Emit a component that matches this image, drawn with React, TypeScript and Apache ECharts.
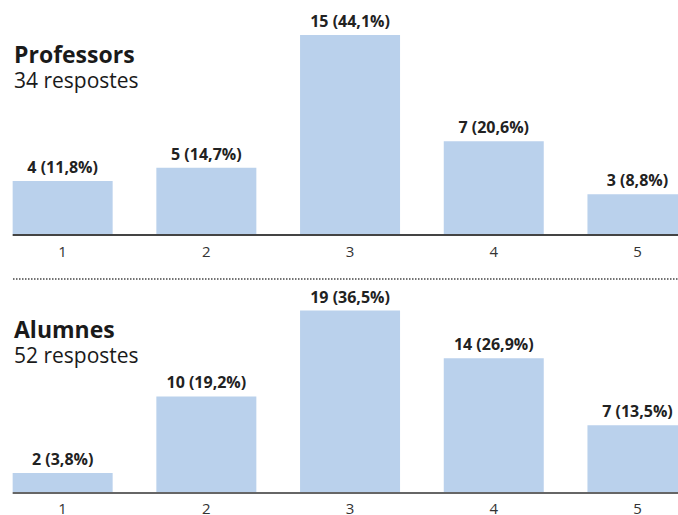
import React, { useEffect, useRef } from "react";
import * as echarts from "echarts";

const categories = ["1", "2", "3", "4", "5"];
const professorsCounts = [4, 5, 15, 7, 3];
const professorsPct = [11.8, 14.7, 44.1, 20.6, 8.8];
const alumnesCounts = [2, 10, 19, 14, 7];
const alumnesPct = [3.8, 19.2, 36.5, 26.9, 13.5];
const groupTitles = ["Professors", "Alumnes"];
const groupSubtitles = ["34 respostes", "52 respostes"];

const FONT = "Open Sans";
const BAR = "#bad1ec";
const SHIFT = 20; // chart div is shifted left by this many px

const fmtPct = (p: number) => p.toFixed(1).replace(".", ",");

export default function App() {
  const ref = useRef<HTMLDivElement>(null);
  useEffect(() => {
    if (!ref.current) return;
    document.body.style.margin = "0";
    document.body.style.overflow = "hidden";
    const chart = echarts.init(ref.current, undefined, { renderer: "svg" });
    const label = (pcts: number[]) => ({
      show: true,
      position: "top",
      distance: 6,
      fontFamily: FONT,
      fontWeight: "bold",
      fontSize: 16,
      color: "#222",
      formatter: (p: any) => `${p.value} (${fmtPct(pcts[p.dataIndex])}%)`,
    });
    const xAxisBase = {
      type: "category",
      data: categories,
      axisLine: { show: false },
      axisTick: { show: false },
      axisLabel: { fontFamily: FONT, fontSize: 15, color: "#333", margin: 9 },
    };
    const titleBase = {
      left: 14 + SHIFT,
      padding: 0,
      itemGap: 4,
      textStyle: { fontFamily: FONT, fontWeight: "bold", fontSize: 23, color: "#1a1a1a" },
      subtextStyle: { fontFamily: FONT, fontSize: 21, color: "#1a1a1a" },
    };
    chart.setOption({
      animation: false,
      title: [
        { ...titleBase, top: 42, text: groupTitles[0], subtext: groupSubtitles[0] },
        { ...titleBase, top: 317, text: groupTitles[1], subtext: groupSubtitles[1] },
      ],
      grid: [
        { left: 10.8, width: 718.5, top: 35, bottom: 515 - 234 },
        { left: 10.8, width: 718.5, top: 310.5, bottom: 515 - 495.5 },
      ],
      xAxis: [
        { ...xAxisBase, gridIndex: 0 },
        { ...xAxisBase, gridIndex: 1, axisLabel: { ...xAxisBase.axisLabel, margin: 8 } },
      ],
      yAxis: [
        { type: "value", gridIndex: 0, min: 0, max: "dataMax", show: false },
        { type: "value", gridIndex: 1, min: 0, max: "dataMax", show: false },
      ],
      series: [
        {
          type: "bar",
          xAxisIndex: 0,
          yAxisIndex: 0,
          data: professorsCounts,
          barWidth: 100,
          itemStyle: { color: BAR },
          label: label(professorsPct),
        },
        {
          type: "bar",
          xAxisIndex: 1,
          yAxisIndex: 1,
          data: alumnesCounts,
          barWidth: 100,
          itemStyle: { color: BAR },
          label: label(alumnesPct),
        },
      ],
    });
    const w = chart.getWidth();
    const baseLines: any[] = [0, 1].map((i) => {
      const xc = chart.convertToPixel({ xAxisIndex: i } as any, categories[0]) as number;
      const y0 = chart.convertToPixel({ yAxisIndex: i } as any, 0) as number;
      return {
        type: "line",
        shape: { x1: xc - 50, y1: y0 + 1, x2: w, y2: y0 + 1 },
        style: { stroke: i === 0 ? "#444" : "#666", lineWidth: 2 },
        z: 10,
      };
    });
    chart.setOption({
      graphic: [
        ...baseLines,
        {
          type: "line",
          shape: { x1: 13 + SHIFT, y1: 279, x2: w, y2: 279 },
          style: { stroke: "#444", lineWidth: 1.5, lineDash: [1.5, 1.5] },
        },
      ],
    });
    return () => chart.dispose();
  }, []);
  return (
    <div style={{ position: "absolute", left: 0, top: 0, width: 678, height: 515, overflow: "hidden", background: "#fff" }}>
      <div ref={ref} style={{ position: "absolute", left: -SHIFT, top: 0, width: 760, height: 515 }} />
    </div>
  );
}
